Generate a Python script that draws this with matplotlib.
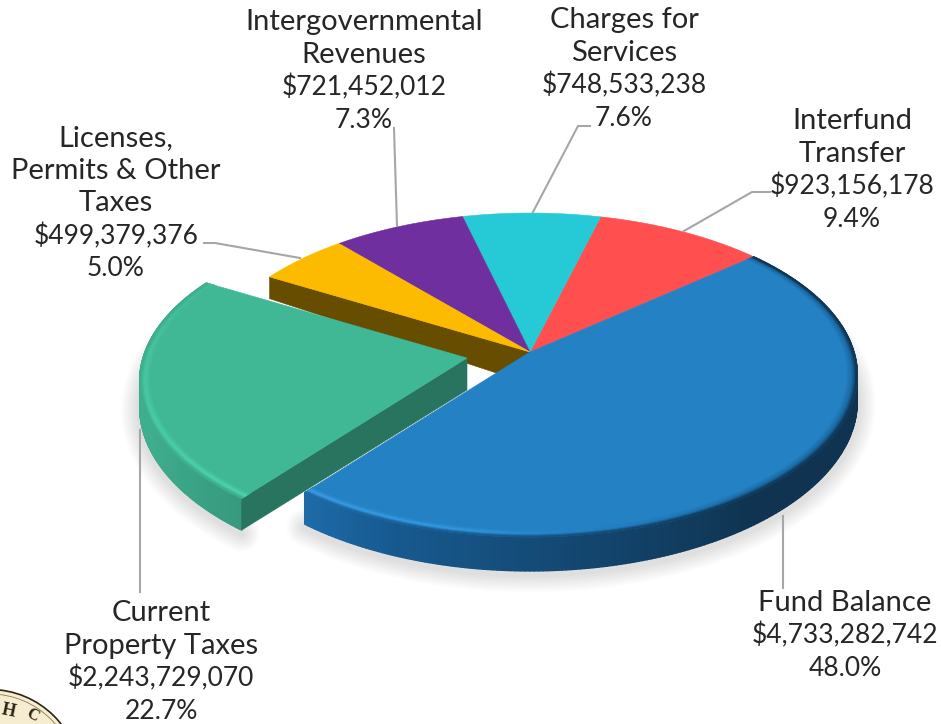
import matplotlib
matplotlib.use('Agg')
import matplotlib.pyplot as plt
import numpy as np
from matplotlib.collections import PolyCollection
from matplotlib.colors import to_rgb
from matplotlib.patches import Circle, Polygon

# datos (sentido horario desde Fund Balance)
nombres = ['Fund Balance', 'Current\nProperty Taxes', 'Licenses,\nPermits & Other\nTaxes',
           'Intergovernmental\nRevenues', 'Charges for\nServices', 'Interfund\nTransfer']
valores = [4733282742, 2243729070, 499379376, 721452012, 748533238, 923156178]
porcentajes = [48.0, 22.7, 5.0, 7.3, 7.6, 9.4]
colores = ['#2481C4', '#40B896', '#FDBB00', '#6F2F9F', '#26CAD6', '#FF4F4F']

# geometria del pastel en perspectiva (pixeles)
CX, CY = 530, 352
A, B, K, D = 324, 158.7, 0.142, 25
D_CENTRO = 32
INICIO = 41.0
EXPLOTA = (-63, 6)
N = 240


def punto(theta, r=1.0, prof=False, off=(0, 0)):
    # pequeno ajuste angular para imitar la proyeccion de la imagen
    giro = np.interp((np.asarray(theta) - INICIO) % 360, [0, 105, 187, 360], [0, 3, 3.5, 0])
    rad = np.radians(theta + giro)
    v = r * np.sin(rad)
    u = r * np.cos(rad)
    den = 1 + K * v
    x = CX + A * u / den + off[0]
    y = CY - B * v / den + off[1]
    if prof:
        y = y + D / den**2
    return np.column_stack([x, y])


def rampa(f, stops, cols):
    rgb = np.array([to_rgb(c) for c in cols])
    return np.column_stack([np.interp(f, stops, rgb[:, i]) for i in range(3)])


def cara(ax, t0, t1, color, off, z):
    th = np.linspace(t0, t1, N)
    pts = np.vstack([[CX + off[0], CY + off[1]], punto(th, off=off)])
    ax.add_patch(Polygon(pts, closed=True, fc=color, ec=color, lw=0.4, zorder=z))


def pared(ax, t0, t1, off, z, stops, cols):
    th = np.linspace(t0, t1, N + 1)
    f = np.linspace(0, 1, N)
    arr = punto(th, off=off)
    aba = punto(th, prof=True, off=off)
    polys = [[arr[i], arr[i + 1], aba[i + 1], aba[i]] for i in range(N)]
    c = rampa(f, stops, cols)
    ax.add_collection(PolyCollection(polys, facecolors=c, edgecolors=c, linewidths=1.0, zorder=z))


def borde(ax, t0, t1, color, off, z, stops, cols, stops2, cols2, r0=0.966):
    # biselado: cara -> brillo -> pared
    th = np.linspace(t0, t1, N + 1)
    f = np.linspace(0, 1, N)
    base = np.array(to_rgb(color))
    brillo = rampa(f, stops, cols)
    oscuro = rampa(f, stops2, cols2)
    anillos = np.linspace(r0, 1, 9)
    for j in range(8):
        t = j / 7
        if t < 0.6:
            c = base + (brillo - base) * (t / 0.6)
        else:
            c = brillo + (oscuro - brillo) * ((t - 0.6) / 0.4)
        a = punto(th, anillos[j], off=off)
        b = punto(th, anillos[j + 1], off=off)
        polys = [[a[i], a[i + 1], b[i + 1], b[i]] for i in range(N)]
        ax.add_collection(PolyCollection(polys, facecolors=c, edgecolors=c, linewidths=0.6, zorder=z))


def sombra(ax, t0, t1, off):
    th = np.linspace(t0, t1, N)
    p = punto(th, prof=True, off=off)
    for lw in np.arange(26, 2, -3):
        ax.plot(p[:, 0], p[:, 1] + 3, color='#808080', lw=lw, alpha=0.03,
                solid_capstyle='round', zorder=1)


fig = plt.figure(figsize=(9.41, 7.24), dpi=100)
ax = fig.add_axes([0, 0, 1, 1])
ax.set_xlim(0, 941)
ax.set_ylim(724, 0)
ax.axis('off')

plt.rcParams['font.family'] = ['Lato', 'DejaVu Sans']

# angulos de cada porcion a partir de los valores
fracs = np.array(valores) / sum(valores)
fin = INICIO - np.cumsum(fracs) * 360
ini = np.r_[INICIO, fin[:-1]]

t0_azul, t1_azul = ini[0], fin[0]
t0_verde, t1_verde = ini[1], fin[1]

sombra(ax, max(t0_azul, 5), t1_azul, (0, 0))
sombra(ax, t0_verde, -195, EXPLOTA)

# porciones traseras
for i in [5, 4, 3, 2]:
    cara(ax, ini[i], fin[i], colores[i], (0, 0), 3)

# pared marron de la porcion amarilla (queda al descubierto)
rim = punto(ini[2])[0]
rim2 = punto(ini[2], prof=True)[0]
centro2 = [CX, CY + D_CENTRO]
ax.add_patch(Polygon([[CX, CY], rim, rim2, centro2], closed=True, fc='#664D00', ec='#664D00',
                     lw=0.4, zorder=2.5))

# porcion verde
pared(ax, t0_verde, t1_verde, EXPLOTA, 4, [0, 0.35, 1], ['#379A7F', '#3FAE8E', '#3FAE8E'])
tip = [CX + EXPLOTA[0], CY + EXPLOTA[1]]
p_r = punto(t0_verde, off=EXPLOTA)[0]
p_b = punto(t0_verde, prof=True, off=EXPLOTA)[0]
ax.add_patch(Polygon([tip, p_r, p_b, [tip[0], tip[1] + D_CENTRO]], closed=True, fc='#29745E',
                     ec='#29745E', lw=0.4, zorder=4.5))
cara(ax, t0_verde, t1_verde, colores[1], EXPLOTA, 5)
borde(ax, t0_verde, t1_verde, colores[1], EXPLOTA, 5.5, [0, 0.5, 1], ['#4FD6AE', '#48CBA4', '#43BC99'],
      [0, 1], ['#3FAE8E', '#3FAE8E'])

# porcion azul
pared(ax, t0_azul, t1_azul, (0, 0), 6, [0, 0.55, 0.76, 0.9, 1],
      ['#0F3350', '#0F3350', '#144A75', '#17598F', '#1D6BA8'])
cara(ax, t0_azul, t1_azul, colores[0], (0, 0), 7)
borde(ax, t0_azul, t1_azul, colores[0], (0, 0), 7.5, [0, 0.55, 0.72, 0.85, 1],
      ['#1B6AA3', '#1B6AA3', '#2480C3', '#349AE2', '#3C9CE8'],
      [0, 0.6, 0.8, 1], ['#0F3350', '#103A5E', '#17598F', '#1D6BA8'])

# lineas guia
guias = [([684, 752, 770], [231, 192, 192]),
         ([533, 578, 590], [212, 126, 126]),
         ([397, 394], [226, 128]),
         ([300, 215, 204], [258, 243, 243]),
         ([140.5, 140.5], [430, 592]),
         ([783, 783], [516, 588])]
for gx, gy in guias:
    ax.plot(gx, gy, color='#A6A6A6', lw=1.5, zorder=8)

# etiquetas: centro x y centro y de la primera linea
pos = [(845, 603), (161, 613), (116, 138), (364, 22), (624, 20), (852, 121)]
PASO = 32.7
for nom, val, pct, (tx, ty) in zip(nombres, valores, porcentajes, pos):
    lineas = nom.split('\n')
    for k, txt in enumerate(lineas):
        ax.text(tx, ty + k * PASO, txt, ha='center', va='center', fontsize=21,
                color='#262626', zorder=9)
    k = len(lineas)
    ax.text(tx, ty + k * PASO, f'${val:,}', ha='center', va='center', fontsize=19,
            color='#262626', zorder=9)
    ax.text(tx, ty + (k + 1) * PASO, f'{pct:.1f}%', ha='center', va='center', fontsize=19,
            color='#262626', zorder=9)

# sello en la esquina
ax.add_patch(Circle((-10, 780), 90.5, fc='#F6EDD0', ec='#2B2416', lw=1.2, zorder=2))
ax.add_patch(Circle((-10, 780), 86, fc='none', ec='#8A7A50', lw=0.6, zorder=2))
ax.text(8, 711, 'H', fontsize=13, fontweight='bold', family='Liberation Serif', color='#2B2416',
        rotation=-12, ha='center', va='center', zorder=3)
ax.text(32, 715, 'C', fontsize=12, fontweight='bold', family='Liberation Serif', color='#2B2416',
        rotation=-28, ha='center', va='center', zorder=3)

fig.savefig('out.png', dpi=100)
